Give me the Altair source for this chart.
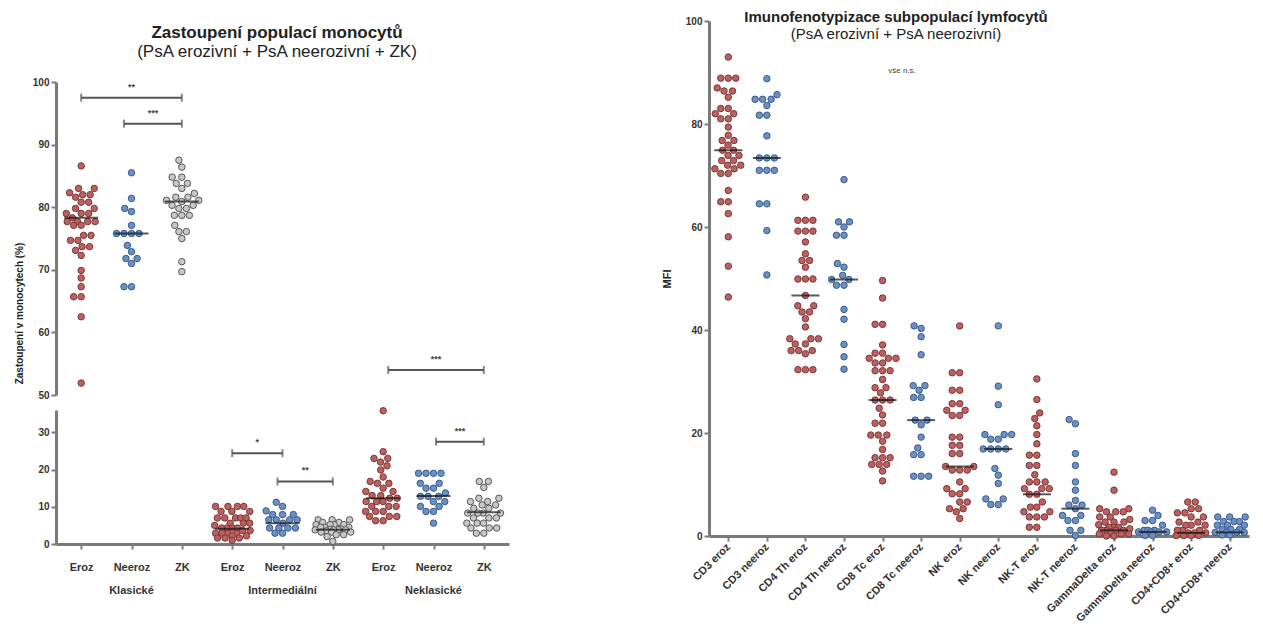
import altair as alt
import pandas as pd

FONT = "Liberation Sans"

# ---------------- LEFT PANEL DATA ----------------
left_tick_labels = ["Eroz", "Neeroz", "ZK"]
left_groups = ["Klasické", "Intermediální", "Neklasické"]
left_group_pos = [2, 5, 8]

kl_eroz = [86.6, 83.0, 83.0, 82.3, 82.0, 82.0, 81.6, 80.8, 80.8, 79.8, 79.8, 79.0, 79.0, 79.0,
           78.3, 77.7, 77.7, 77.7, 77.7, 77.1, 77.1, 75.5, 75.5, 74.7, 74.7, 73.7, 73.7, 73.1,
           72.3, 69.9, 68.7, 67.3, 65.7, 65.7, 62.5, 51.9]
kl_neeroz = [85.5, 81.4, 79.8, 79.3, 77.1, 75.8, 75.8, 75.8, 75.8, 73.9, 72.9, 71.8, 71.8,
             71.0, 67.3, 67.3]
kl_zk = [87.5, 86.4, 84.8, 84.8, 83.8, 83.8, 83.0, 82.2, 81.6, 81.6, 81.1, 81.1, 80.9, 80.3,
         80.3, 79.8, 79.8, 78.7, 78.7, 78.7, 77.1, 76.1, 76.1, 75.0, 71.3, 69.7]
in_eroz = [10.1, 10.1, 10.1, 10.1, 8.75, 8.75, 8.75, 7.0, 7.0, 7.0, 7.0, 7.0, 5.6, 5.6, 5.6,
           4.3, 4.3, 4.3, 4.3, 2.9, 2.9, 2.9, 2.9, 1.6, 1.6, 1.6, 3.6, 3.6, 5.0, 2.2, 2.2, 1.0]
in_neeroz = [11.2, 10.1, 8.9, 7.9, 7.9, 7.9, 6.5, 6.5, 6.5, 6.5, 5.6, 4.3, 4.3, 4.3, 4.3, 2.9, 2.9]
in_zk = [6.5, 6.5, 6.5, 5.8, 5.8, 5.2, 5.2, 5.2, 5.2, 4.5, 4.5, 4.5, 4.0, 4.0, 3.8, 3.8, 3.8,
         3.8, 3.5, 3.2, 3.2, 3.2, 2.5, 2.5, 2.0, 0.7]
nk_eroz = [35.8, 24.8, 23.0, 23.0, 22.0, 21.0, 19.9, 18.0, 16.8, 16.3, 16.3, 15.0, 14.1, 14.1,
           13.0, 13.0, 12.3, 12.3, 11.4, 11.4, 11.4, 10.1, 10.1, 10.1, 8.75, 8.75, 8.75, 7.4,
           7.4, 7.4, 6.25, 6.25]
nk_neeroz = [19.0, 19.0, 19.0, 19.0, 16.3, 16.3, 15.0, 15.0, 13.7, 12.8, 12.8, 12.8, 11.4, 11.4,
             10.1, 10.1, 8.75, 8.75, 5.6]
nk_zk = [16.8, 16.8, 15.2, 12.3, 12.3, 11.4, 11.4, 10.5, 10.5, 9.6, 9.6, 8.3, 8.3, 8.3, 8.3,
         7.0, 7.0, 7.0, 5.6, 5.6, 5.6, 4.3, 4.3, 4.3, 2.9, 2.9]

left_series = [kl_eroz, kl_neeroz, kl_zk, in_eroz, in_neeroz, in_zk, nk_eroz, nk_neeroz, nk_zk]
left_medians = [78.3, 75.8, 80.9, 4.1, 5.6, 3.8, 12.3, 12.9, 8.5]

# significance brackets
brk_x1 = [1.0, 1.85, 4.0, 4.9, 7.1, 8.05]
brk_x2 = [3.0, 3.0, 5.0, 6.0, 9.0, 9.0]
brk_y = [97.5, 93.35, 24.4, 16.8, 54.0, 27.5]
brk_lbl = ["**", "***", "*", "**", "***", "***"]
brk_seg = ["top", "top", "bottom", "bottom", "top", "bottom"]

# ---------------- RIGHT PANEL DATA ----------------
right_cats = ["CD3 eroz", "CD3 neeroz", "CD4 Th eroz", "CD4 Th neeroz", "CD8 Tc eroz",
              "CD8 Tc neeroz", "NK eroz", "NK neeroz", "NK-T eroz", "NK-T neeroz",
              "GammaDelta eroz", "GammaDelta neeroz", "CD4+CD8+ eroz", "CD4+CD8+ neeroz"]
cd3_e = [93.0, 88.9, 88.9, 88.9, 87.0, 86.4, 86.4, 85.2, 83.0, 83.0, 82.0, 82.0, 81.0, 81.0,
         79.4, 77.8, 76.8, 76.8, 75.9, 74.9, 74.9, 73.9, 73.9, 72.9, 72.9, 72.0, 72.0, 71.3,
         71.3, 70.4, 70.4, 67.1, 64.9, 64.9, 62.6, 58.1, 52.4, 46.4]
cd3_n = [88.8, 85.7, 84.8, 84.8, 84.8, 83.6, 81.7, 81.7, 77.7, 73.4, 73.4, 73.4, 71.0, 71.0,
         71.0, 64.5, 64.5, 59.3, 50.7]
cd4_e = [65.8, 61.3, 61.3, 61.3, 59.2, 59.2, 59.2, 57.1, 54.8, 53.5, 53.5, 52.2, 49.9, 49.9,
         49.9, 46.7, 44.7, 44.7, 43.5, 43.5, 42.2, 40.6, 38.3, 38.3, 38.3, 37.3, 37.3, 36.0,
         36.0, 36.0, 35.4, 32.3, 32.3, 32.3]
cd4_n = [69.2, 61.0, 61.0, 60.0, 58.4, 58.4, 52.9, 52.2, 50.6, 49.8, 49.8, 48.7, 48.7, 44.0,
         42.1, 37.2, 34.8, 32.4]
cd8_e = [49.6, 46.2, 41.1, 41.1, 37.1, 35.5, 35.5, 34.5, 34.5, 34.5, 33.6, 33.6, 32.1, 32.1,
         32.1, 30.4, 28.8, 28.8, 27.8, 26.4, 26.4, 26.4, 24.8, 23.5, 21.9, 21.9, 19.6, 19.6,
         19.6, 18.4, 16.8, 15.2, 15.2, 15.2, 13.9, 13.9, 13.9, 12.6, 10.7]
cd8_n = [40.8, 40.3, 38.7, 35.2, 29.2, 29.2, 28.3, 26.9, 26.9, 22.5, 22.5, 21.6, 19.2, 17.1,
         15.8, 15.8, 11.6, 11.6, 11.6]
nk_e = [40.8, 31.7, 31.7, 28.3, 28.3, 25.7, 25.7, 24.4, 24.4, 23.4, 23.4, 19.2, 19.2, 17.6,
        17.6, 16.0, 16.0, 13.5, 13.5, 12.8, 12.8, 12.8, 10.5, 9.2, 9.2, 8.2, 8.2, 6.6, 6.6,
        5.3, 5.3, 4.7, 3.4]
nk_n = [40.8, 29.1, 25.5, 19.7, 19.7, 19.7, 18.8, 18.8, 16.9, 16.9, 16.9, 16.9, 13.1, 11.8,
        10.2, 7.2, 7.2, 6.1, 6.1]
nkt_e = [30.5, 26.5, 23.9, 22.8, 21.4, 19.7, 17.9, 15.7, 15.7, 13.7, 13.7, 11.9, 10.5, 10.5,
         10.5, 9.2, 9.2, 9.2, 8.1, 8.1, 6.6, 5.6, 5.6, 4.7, 4.7, 3.7, 3.7, 3.7, 1.7, 1.7]
nkt_n = [22.6, 21.8, 16.0, 13.7, 10.5, 8.9, 6.9, 6.0, 6.0, 5.3, 4.0, 4.0, 3.0, 3.0, 1.1, 1.1, 0.1]
gd_e = [12.4, 8.9, 5.3, 5.3, 4.7, 4.7, 4.7, 3.7, 3.7, 3.2, 2.7, 2.7, 2.7, 2.2, 1.7, 1.7, 1.7,
        1.4, 1.1, 1.1, 1.1, 1.1, 0.8, 0.4, 0.4, 0.4, 0.0, 0.0]
gd_n = [5.0, 4.0, 3.0, 3.0, 2.1, 1.1, 1.1, 1.1, 0.8, 0.8, 0.8, 0.8, 0.1, 0.1]
dp_e = [6.6, 6.6, 5.3, 5.3, 4.5, 4.5, 3.7, 3.7, 2.7, 2.7, 2.1, 2.1, 2.1, 1.1, 1.1, 1.1, 0.6,
        0.6, 0.6, 0.1, 0.1, 0.1, 0.1]
dp_n = [3.7, 3.7, 3.7, 2.8, 2.8, 2.8, 2.1, 2.1, 2.1, 1.3, 1.3, 1.3, 0.7, 0.7, 0.7, 0.7, 0.2, 0.2]

right_series = [cd3_e, cd3_n, cd4_e, cd4_n, cd8_e, cd8_n, nk_e, nk_n, nkt_e, nkt_n,
                gd_e, gd_n, dp_e, dp_n]
right_medians = [74.9, 73.4, 46.7, 49.8, 26.4, 22.5, 13.5, 16.9, 8.1, 5.3, 1.1, 0.8, 0.6, 0.7]


# ---------------- helpers ----------------
def swarm(vals, ppu_y, ppu_x, d=7.5, cap=18.0):
    """Deterministic beeswarm with a width cap; dots overlap when a column gets crowded."""
    order = sorted(range(len(vals)), key=lambda i: vals[i])
    placed = []
    offs = [0.0] * len(vals)
    for i in order:
        y = vals[i] * ppu_y
        chosen = None
        for dd in [d, d * 0.85, d * 0.7, d * 0.55, d * 0.4, d * 0.25]:
            cands = [0.0]
            for py, px in placed:
                dy = abs(py - y)
                if dy < dd:
                    dx = (dd * dd - dy * dy) ** 0.5
                    cands += [px + dx, px - dx]
            cands = [c for c in cands if abs(c) <= cap]
            cands.sort(key=lambda c: (abs(c), c))
            for c in cands:
                if all((c - px) ** 2 + (y - py) ** 2 >= dd * dd - 1e-6 for py, px in placed):
                    chosen = c
                    break
            if chosen is not None:
                break
        if chosen is None:
            chosen = 0.0
        placed.append((y, chosen))
        offs[i] = chosen / ppu_x
    return offs


kind_dom = ["Eroz", "Neeroz", "ZK"]
fill_rng = ["#bd605f", "#6a90c6", "#c8c8c8"]
stroke_rng = ["#7a3838", "#3a5a8a", "#555555"]
fill_enc = alt.Fill("kind:N", scale=alt.Scale(domain=kind_dom, range=fill_rng), legend=None)
stroke_enc = alt.Stroke("kind:N", scale=alt.Scale(domain=kind_dom, range=stroke_rng), legend=None)

# ---------------- LEFT dataframes ----------------
rows = []
for i, vals in enumerate(left_series):
    pos = i + 1
    seg = "top" if i < 3 else "bottom"
    ppu = 6.27 if seg == "top" else 3.73
    offs = swarm(vals, ppu, 50.4, d=7.5, cap=18.0)
    for v, o in zip(vals, offs):
        rows.append(dict(x=pos + o, v=v, kind=left_tick_labels[i % 3], seg=seg))
left_df = pd.DataFrame(rows)
lmed_df = pd.DataFrame(dict(x=list(range(1, 10)), v=left_medians,
                            seg=["top"] * 3 + ["bottom"] * 6))
brk_df = pd.DataFrame(dict(x1=brk_x1, x2=brk_x2, v=brk_y, lbl=brk_lbl, seg=brk_seg,
                           xm=[(a + b) / 2 for a, b in zip(brk_x1, brk_x2)]))
cap_df = pd.DataFrame(dict(x=brk_x1 + brk_x2, v=brk_y + brk_y, seg=brk_seg + brk_seg))
grp_df = pd.DataFrame(dict(x=left_group_pos, t=left_groups))

LW = 453
BH = 134
XS_L = alt.Scale(domain=[0.5, 9.5], nice=False, zero=False)


def left_layers(seg, yscale, yaxis, xaxis, h):
    y = lambda f: alt.Y(f, scale=yscale, axis=yaxis)
    x = lambda f: alt.X(f, scale=XS_L, axis=xaxis)
    pts = alt.Chart(left_df).transform_filter(alt.datum.seg == seg).mark_point(
        shape="circle", filled=True, size=42, strokeWidth=1, opacity=1
    ).encode(x=x("x:Q"), y=y("v:Q"), fill=fill_enc, stroke=stroke_enc)
    med = alt.Chart(lmed_df).transform_filter(alt.datum.seg == seg).mark_tick(
        orient="horizontal", size=34, thickness=2, color="#111"
    ).encode(x=x("x:Q"), y=y("v:Q"))
    rule = alt.Chart(brk_df).transform_filter(alt.datum.seg == seg).mark_rule(
        color="#555", strokeWidth=2
    ).encode(x=x("x1:Q"), x2="x2:Q", y=y("v:Q"))
    caps = alt.Chart(cap_df).transform_filter(alt.datum.seg == seg).mark_tick(
        orient="vertical", size=8, thickness=2, color="#555"
    ).encode(x=x("x:Q"), y=y("v:Q"))
    lbl = alt.Chart(brk_df).transform_filter(alt.datum.seg == seg).mark_text(
        font=FONT, fontSize=9, fontWeight="bold", color="#444", dy=-11, baseline="middle"
    ).encode(x=x("xm:Q"), y=y("v:Q"), text="lbl:N")
    return alt.layer(pts, med, rule, caps, lbl).properties(width=LW, height=h)


top_axis = alt.Axis(values=[50, 60, 70, 80, 90, 100], title="Zastoupení v monocytech (%)",
                    titleY=231, titlePadding=8, titleFontSize=10)
top = left_layers("top", alt.Scale(domain=[50, 100], nice=False, zero=False), top_axis, None, 313)

bot_axis = alt.Axis(values=[0, 10, 20, 30], title=None)
bot_xaxis = alt.Axis(values=list(range(1, 10)), title=None, labelFontSize=11, labelPadding=12,
                     labelOverlap=False,
                     labelExpr="['Eroz','Neeroz','ZK'][(round(datum.value)-1)%3]")
bottom_core = left_layers("bottom", alt.Scale(domain=[0, 36], nice=False, zero=False),
                          bot_axis, bot_xaxis, BH)
grp = alt.Chart(grp_df).mark_text(font=FONT, fontSize=11, fontWeight="bold", color="#333",
                                  baseline="middle").encode(
    x=alt.X("x:Q", scale=XS_L, axis=bot_xaxis), y=alt.value(BH + 47), text="t:N")
bottom = alt.layer(bottom_core, grp).properties(width=LW, height=BH)

left_title = ["Zastoupení populací monocytů"]
left_subtitle = ["(PsA  erozivní + PsA neerozivní + ZK)"]
t1 = alt.Chart(pd.DataFrame(dict(t=left_title))).mark_text(
    font=FONT, fontSize=17, fontWeight="bold", color="#222", baseline="middle"
).encode(x=alt.value(221), y=alt.value(12), text="t:N")
t2 = alt.Chart(pd.DataFrame(dict(t=left_subtitle))).mark_text(
    font=FONT, fontSize=17, color="#222", baseline="middle"
).encode(x=alt.value(221), y=alt.value(31), text="t:N")
spacer = alt.layer(t1, t2).properties(width=LW, height=46)

left = alt.vconcat(spacer, top, bottom, spacing=15, bounds="flush")

# ---------------- RIGHT ----------------
RW = 540
RSTEP = RW / 14.0
rrows = []
for i, vals in enumerate(right_series):
    pos = i + 1
    offs = swarm(vals, 5.15, RSTEP, d=7.5, cap=16.0)
    for v, o in zip(vals, offs):
        rrows.append(dict(x=pos + o, v=v, kind="Eroz" if i % 2 == 0 else "Neeroz"))
right_df = pd.DataFrame(rrows)
rmed_df = pd.DataFrame(dict(x=list(range(1, 15)), v=right_medians))

XS_R = alt.Scale(domain=[0.5, 14.5], nice=False, zero=False)
YS_R = alt.Scale(domain=[0, 100], nice=False, zero=False)
lab_arr = "[" + ",".join("'" + c + "'" for c in right_cats) + "]"
r_xaxis = alt.Axis(values=list(range(1, 15)), title=None, labelAngle=315, labelAlign="right",
                   labelBaseline="middle", labelFontSize=11, labelPadding=4,
                   labelOverlap=False,
                   labelExpr=lab_arr + "[round(datum.value)-1]")
r_yaxis = alt.Axis(values=[0, 20, 40, 60, 80, 100], title="MFI", titlePadding=13,
                   titleFontSize=11)

rpts = alt.Chart(right_df).mark_point(shape="circle", filled=True, size=42, strokeWidth=1,
                                      opacity=1).encode(
    x=alt.X("x:Q", scale=XS_R, axis=r_xaxis), y=alt.Y("v:Q", scale=YS_R, axis=r_yaxis),
    fill=fill_enc, stroke=stroke_enc)
rmed = alt.Chart(rmed_df).mark_tick(orient="horizontal", size=28, thickness=2,
                                    color="#111").encode(
    x=alt.X("x:Q", scale=XS_R, axis=r_xaxis), y=alt.Y("v:Q", scale=YS_R, axis=r_yaxis))

right_title = ["Imunofenotypizace subpopulací lymfocytů"]
right_subtitle = ["(PsA  erozivní + PsA neerozivní)"]
right_note = ["vše n.s."]
rt1 = alt.Chart(pd.DataFrame(dict(t=right_title))).mark_text(
    font=FONT, fontSize=15, fontWeight="bold", color="#222", baseline="middle"
).encode(x=alt.value(187), y=alt.value(-4), text="t:N")
rt2 = alt.Chart(pd.DataFrame(dict(t=right_subtitle))).mark_text(
    font=FONT, fontSize=15, color="#222", baseline="middle"
).encode(x=alt.value(187), y=alt.value(13), text="t:N")
rt3 = alt.Chart(pd.DataFrame(dict(t=right_note))).mark_text(
    font=FONT, fontSize=8, color="#444", baseline="middle"
).encode(x=alt.value(193), y=alt.value(50), text="t:N")

right = alt.layer(rpts, rmed, rt1, rt2, rt3).properties(width=RW, height=515)

chart = alt.hconcat(left, right, spacing=152).properties(
    padding={"left": 6, "top": 2, "right": 0, "bottom": 0}
).configure_view(stroke=None).configure_axis(
    domainColor="#7a7a7a", domainWidth=3, tickColor="#7a7a7a", tickWidth=2, tickSize=5,
    labelColor="#333", labelFont=FONT, labelFontWeight="bold", labelFontSize=10,
    grid=False, titleFont=FONT, titleFontWeight="bold", titleColor="#222", labelPadding=2
)

chart.save("out.html", embed_options={"renderer": "svg", "actions": False})
